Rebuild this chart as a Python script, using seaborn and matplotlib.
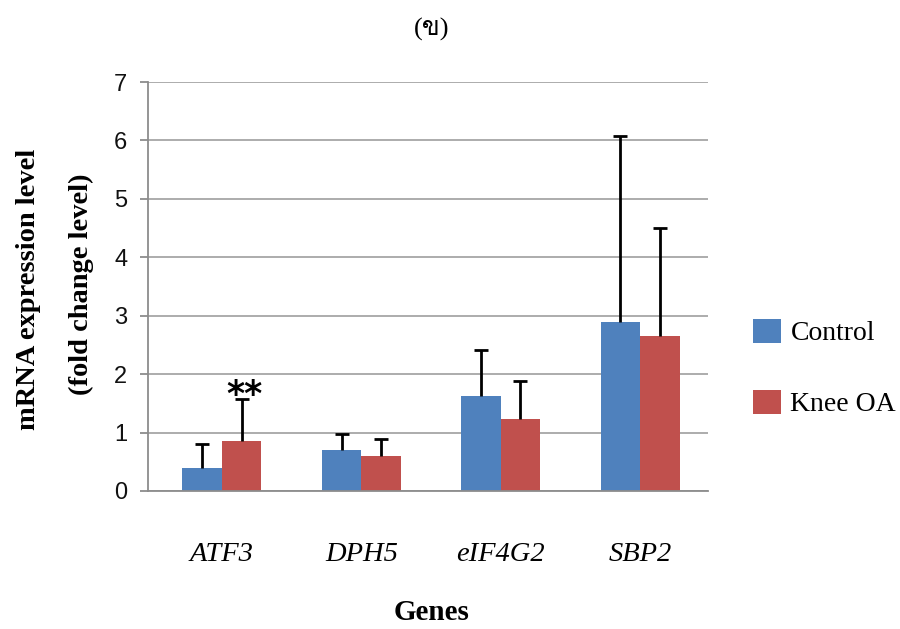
import matplotlib
matplotlib.use("Agg")
import matplotlib.pyplot as plt
from matplotlib import font_manager
from matplotlib.patches import Patch
import seaborn as sns
import pandas as pd
import numpy as np

genes = ["ATF3", "DPH5", "eIF4G2", "SBP2"]
groups = ["Control", "Knee OA"]
control_mean = [0.40, 0.71, 1.62, 2.89]
control_err = [0.40, 0.26, 0.79, 3.19]
oa_mean = [0.86, 0.60, 1.23, 2.65]
oa_err = [0.72, 0.29, 0.65, 1.86]
yticks = [0, 1, 2, 3, 4, 5, 6, 7]
title_text = "(ข)"

colors = ["#4F81BD", "#C0504D"]

# find a font with Thai glyph
thai_font = None
try:
    from matplotlib.ft2font import FT2Font
    for f in font_manager.fontManager.ttflist:
        try:
            ft = FT2Font(f.fname)
            if 0x0E02 in ft.get_charmap():
                thai_font = f.name
                break
        except Exception:
            pass
except Exception:
    pass

sns.set_theme(style="white")
plt.rcParams["font.family"] = ["Liberation Serif", "DejaVu Serif"]
plt.rcParams["text.color"] = "black"
plt.rcParams["xtick.color"] = "black"
plt.rcParams["ytick.color"] = "black"

df = pd.DataFrame({
    "gene": genes * 2,
    "group": [groups[0]] * 4 + [groups[1]] * 4,
    "value": control_mean + oa_mean,
})
errs = {groups[0]: control_err, groups[1]: oa_err}

fig = plt.figure(figsize=(9, 6.29), dpi=100)
ax = fig.add_axes([0.1644, 0.2194, 0.6223, 0.6502])
sns.barplot(data=df, x="gene", y="value", hue="group", palette=colors,
            width=0.567, errorbar=None, ax=ax, legend=False, saturation=1,
            edgecolor="none", linewidth=0)

# error bars (upper only)
for container, grp in zip(ax.containers, groups):
    for bar, e in zip(container, errs[grp]):
        xc = bar.get_x() + bar.get_width() / 2
        h = bar.get_height()
        _, caps, _ = ax.errorbar(xc, h, yerr=[[0], [e]], fmt="none", ecolor="black",
                                 elinewidth=2.0, capsize=4.8, capthick=2.0, zorder=3)
        if len(caps) == 2:
            caps[0].set_visible(False)

# significance marker
atf_bar = ax.containers[1][0]
ax.text(atf_bar.get_x() + atf_bar.get_width() / 2 + 0.02, oa_mean[0] + oa_err[0] - 0.22, "**",
        ha="center", va="bottom", fontsize=25, fontweight="bold",
        family=["DejaVu Sans"], color="black")

ax.set_ylim(0, 7)
ax.set_xlim(-0.531, 3.488)
ax.set_yticks(yticks)
ax.set_yticklabels([str(t) for t in yticks], family=["Liberation Sans"], fontsize=17)
ax.yaxis.grid(True, color="#A6A6A6", linewidth=1.3)
ax.set_axisbelow(True)
for s in ["top", "right"]:
    ax.spines[s].set_visible(False)
for s in ["left", "bottom"]:
    ax.spines[s].set_color("#8C8C8C")
    ax.spines[s].set_linewidth(1.3)
ax.tick_params(axis="y", which="both", left=True, length=6, color="#8C8C8C",
               labelcolor="#111111", width=1.3, pad=9)
ax.tick_params(axis="x", bottom=False, pad=31, labelcolor="black")
for lbl in ax.get_xticklabels():
    lbl.set_fontstyle("italic")
    lbl.set_fontsize(20.5)
    lbl.set_family(["Liberation Serif"])
ax.set_xlabel("")
ax.set_ylabel("")

fig.text(432 / 900, 1 - 613 / 629, "Genes", ha="center", va="center",
         fontsize=21, fontweight="bold", color="black")
fig.text(29 / 900, 1 - 289 / 629, "mRNA expression level", rotation=90,
         ha="center", va="center", fontsize=20.5, fontweight="bold", color="black")
fig.text(81 / 900, 1 - 284 / 629, "(fold change level)", rotation=90,
         ha="center", va="center", fontsize=20.5, fontweight="bold", color="black")
tfam = ["Liberation Serif"] + ([thai_font] if thai_font else []) + ["DejaVu Sans"]
fig.text(432 / 900, 1 - 29 / 629, title_text, ha="center", va="center",
         fontsize=19, family=tfam, color="black")

handles = [Patch(facecolor=c, edgecolor="none") for c in colors]
leg = fig.legend(handles, groups, loc="center left", bbox_to_anchor=(728 / 900, 1 - 368 / 629),
                 frameon=False, fontsize=20, handlelength=1.0, handleheight=1.0,
                 labelspacing=1.55, handletextpad=0.35)
for t in leg.get_texts():
    t.set_color("black")

fig.savefig("out.png", dpi=100)
